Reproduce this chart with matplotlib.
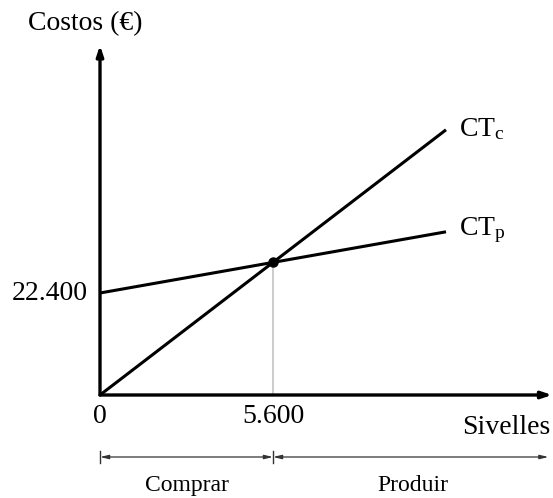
import numpy as np
import matplotlib.pyplot as plt

plt.rcParams['font.family'] = ['Liberation Serif', 'DejaVu Serif']
plt.rcParams['mathtext.fontset'] = 'custom'
plt.rcParams['mathtext.rm'] = 'Liberation Serif'
plt.rcParams['mathtext.it'] = 'Liberation Serif'

# data
fixed_cost = 22400        # CT_p intercept
var_cost_p = 1.2          # unit cost when producing
price_c = 5.2             # unit cost when buying
break_even = 5600
x_end = 11200
x_ticks = [0, break_even]
x_tick_labels = ["0", "5.600"]
y_tick_labels = ["22.400"]

x = np.array([0, x_end])
ct_c = price_c * x
ct_p = fixed_cost + var_cost_p * x
y_be = fixed_cost + var_cost_p * break_even

W, H = 553, 498
fig = plt.figure(figsize=(W / 100, H / 100), dpi=100)
# origin of the axes at pixel (100, 395)
ax = fig.add_axes([100 / W, (H - 395) / H, (W - 100) / W, (395 - 40) / H])
x_max = 453 / 173 * break_even
y_max = 355 / 102 * fixed_cost
ax.set_xlim(0, x_max)
ax.set_ylim(0, y_max)
ax.axis('off')

# axes with arrows
ax.annotate('', xy=(x_max * 0.998, 0), xytext=(0, 0),
            arrowprops=dict(arrowstyle='-|>,head_length=0.6,head_width=0.2',
                            color='black', lw=2.4, shrinkA=0, shrinkB=0),
            annotation_clip=False)
ax.annotate('', xy=(0, y_max * 0.985), xytext=(0, 0),
            arrowprops=dict(arrowstyle='-|>,head_length=0.6,head_width=0.2',
                            color='black', lw=2.4, shrinkA=0, shrinkB=0),
            annotation_clip=False)

# cost lines
ax.plot(x, ct_c, color='black', lw=2.2, solid_capstyle='butt', clip_on=False)
ax.plot(x, ct_p, color='black', lw=2.2, solid_capstyle='butt', clip_on=False)
ax.plot([break_even, break_even], [0, y_be], color='#c8c8c8', lw=1.3, zorder=1)
ax.plot([break_even], [y_be], 'o', color='black', ms=6.5, zorder=5)

fs = 20
# line labels
ax.annotate(r'CT$_\mathrm{c}$', xy=(x_end, ct_c[-1]), xytext=(13, 1),
            textcoords='offset pixels', fontsize=fs, va='center', ha='left',
            annotation_clip=False)
ax.annotate(r'CT$_\mathrm{p}$', xy=(x_end, ct_p[-1]), xytext=(13, 2),
            textcoords='offset pixels', fontsize=fs, va='center', ha='left',
            annotation_clip=False)

# tick labels
for xv, lab in zip(x_ticks, x_tick_labels):
    ax.annotate(lab, xy=(xv, 0), xytext=(0, -21), textcoords='offset pixels',
                fontsize=fs, ha='center', va='center', annotation_clip=False)
ax.annotate(y_tick_labels[0], xy=(0, fixed_cost), xytext=(-12, 0),
            textcoords='offset pixels', fontsize=fs, ha='right', va='center',
            annotation_clip=False)

# axis titles
fig.text(28 / W, (H - 24) / H, 'Costos (€)', fontsize=fs, ha='left', va='center')
fig.text(550 / W, (H - 427) / H, 'Sivelles', fontsize=fs, ha='right', va='center')

# decision ranges below the axis
y_rng = -62 / 102 * fixed_cost
rng_kw = dict(arrowstyle='<|-|>,head_length=0.5,head_width=0.12',
              color='#333333', lw=0.9, shrinkA=0, shrinkB=0)
ax.annotate('', xy=(break_even, y_rng), xytext=(0, y_rng),
            arrowprops=rng_kw, annotation_clip=False)
ax.annotate('', xy=(x_max * 0.99, y_rng), xytext=(break_even, y_rng),
            arrowprops=rng_kw, annotation_clip=False)
bar_h = 6 / 102 * fixed_cost
for xv in x_ticks:
    ax.plot([xv, xv], [y_rng - bar_h, y_rng + bar_h], color='#333333', lw=1.0,
            clip_on=False)

ax.annotate('Comprar', xy=(break_even / 2, y_rng), xytext=(0, -28),
            textcoords='offset pixels', fontsize=17, ha='center', va='center',
            annotation_clip=False)
ax.annotate('Produir', xy=((break_even + x_max) / 2, y_rng), xytext=(0, -28),
            textcoords='offset pixels', fontsize=17, ha='center', va='center',
            annotation_clip=False)

fig.savefig('out.png', dpi=100)
